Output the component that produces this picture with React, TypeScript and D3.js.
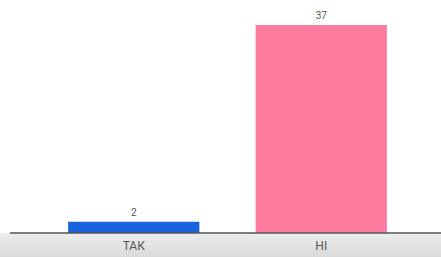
import React, { useEffect, useRef } from 'react';
import * as d3 from 'd3';

const categories = ['ТАК', 'НІ'];
const values = [2, 37];
const colors = ['#1a62de', '#ff7ca0'];

const W = 441;
const H = 257;

const App: React.FC = () => {
  const svgRef = useRef<SVGSVGElement>(null);

  useEffect(() => {
    if (!svgRef.current) return;
    const svg = d3.select(svgRef.current);
    svg.selectAll('*').remove();

    const baseY = 233;

    // grey strip under the axis
    const defs = svg.append('defs');
    const grad = defs.append('linearGradient')
      .attr('id', 'strip')
      .attr('x1', 0).attr('y1', 0).attr('x2', 0).attr('y2', 1);
    grad.append('stop').attr('offset', '0%').attr('stop-color', '#ececec');
    grad.append('stop').attr('offset', '100%').attr('stop-color', '#dadada');
    svg.append('rect')
      .attr('x', 0).attr('y', baseY)
      .attr('width', W).attr('height', H - baseY)
      .attr('fill', 'url(#strip)');

    const x = d3.scaleBand<string>()
      .domain(categories)
      .range([40, 415])
      .paddingInner(0.3)
      .paddingOuter(0.15);

    const y = d3.scaleLinear()
      .domain([0, 37])
      .range([baseY, 25]);

    const g = svg.append('g');

    g.selectAll('rect.bar')
      .data(values)
      .join('rect')
      .attr('class', 'bar')
      .attr('x', (_, i) => x(categories[i])!)
      .attr('y', d => y(d))
      .attr('width', x.bandwidth())
      .attr('height', d => baseY - y(d))
      .attr('fill', (_, i) => colors[i]);

    g.selectAll('text.val')
      .data(values)
      .join('text')
      .attr('class', 'val')
      .attr('x', (_, i) => x(categories[i])! + x.bandwidth() / 2)
      .attr('y', d => y(d) - 6)
      .attr('text-anchor', 'middle')
      .attr('font-family', 'Roboto, sans-serif')
      .attr('font-size', 10)
      .attr('fill', '#555')
      .text(d => d);

    g.append('line')
      .attr('x1', 10).attr('x2', W)
      .attr('y1', baseY).attr('y2', baseY)
      .attr('stroke', '#555')
      .attr('stroke-width', 1.5);

    g.selectAll('text.cat')
      .data(categories)
      .join('text')
      .attr('class', 'cat')
      .attr('x', d => x(d)! + x.bandwidth() / 2)
      .attr('y', 250)
      .attr('text-anchor', 'middle')
      .attr('font-family', 'Roboto, sans-serif')
      .attr('font-size', 12)
      .attr('fill', '#555')
      .text(d => d);
  }, []);

  return (
    <svg
      ref={svgRef}
      width={W}
      height={H}
      style={{ position: 'absolute', left: 0, top: 0, background: '#fff' }}
    />
  );
};

export default App;
